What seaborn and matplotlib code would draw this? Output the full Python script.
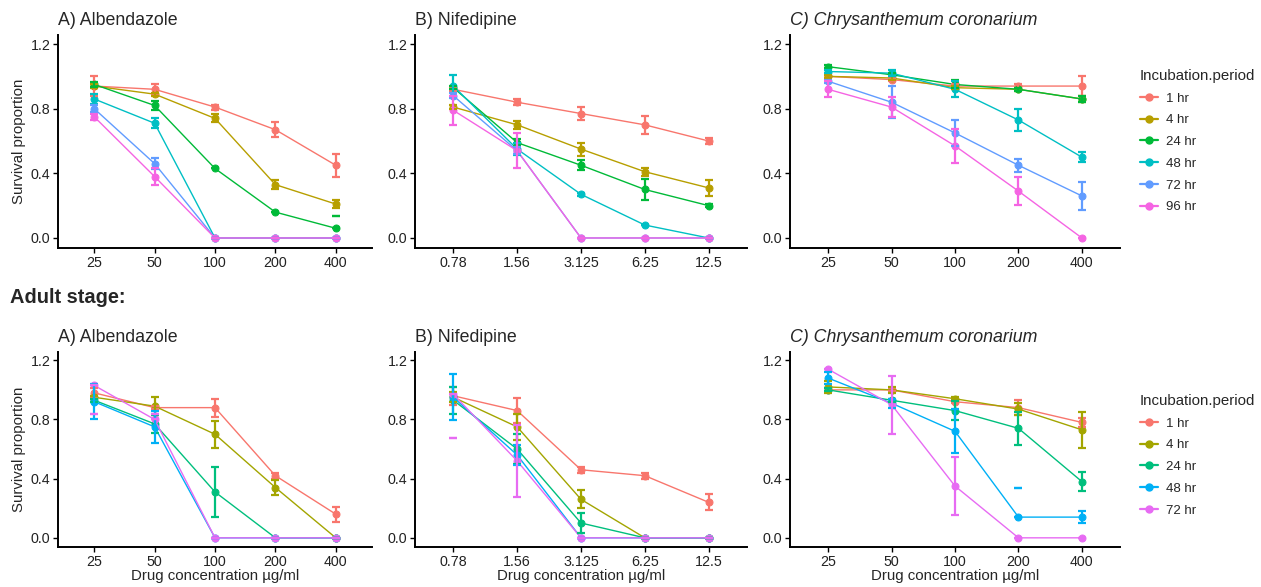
import numpy as np
import pandas as pd
import matplotlib.pyplot as plt
import seaborn as sns
from matplotlib.lines import Line2D

# ---- data ----
larva_hours = ['1 hr', '4 hr', '24 hr', '48 hr', '72 hr', '96 hr']
adult_hours = ['1 hr', '4 hr', '24 hr', '48 hr', '72 hr']
larva_colors = ['#F8766D', '#B79F00', '#00BA38', '#00BFC4', '#619CFF', '#F564E3']
adult_colors = ['#F8766D', '#A3A500', '#00BF7D', '#00B0F6', '#E76BF3']

conc_alb = ['25', '50', '100', '200', '400']
conc_nif = ['0.78', '1.56', '3.125', '6.25', '12.5']
conc_chr = ['25', '50', '100', '200', '400']

# larval stage (rows = incubation period)
larva_alb_mean = [[0.94, 0.92, 0.81, 0.67, 0.45],
                  [0.94, 0.89, 0.74, 0.33, 0.21],
                  [0.95, 0.82, 0.43, 0.16, 0.06],
                  [0.86, 0.71, 0.00, 0.00, 0.00],
                  [0.80, 0.46, 0.00, 0.00, 0.00],
                  [0.75, 0.38, 0.00, 0.00, 0.00]]
larva_alb_err = [[0.06, 0.03, 0.015, 0.045, 0.07],
                 [0.01, 0.01, 0.025, 0.03, 0.025],
                 [0.015, 0.03, 0.0, 0.0, 0.0],
                 [0.03, 0.03, 0.0, 0.0, 0.0],
                 [0.02, 0.035, 0.0, 0.0, 0.0],
                 [0.02, 0.05, 0.0, 0.0, 0.0]]
larva_alb_stray = [('24 hr', '400', 0.136)]

larva_nif_mean = [[0.92, 0.84, 0.77, 0.70, 0.60],
                  [0.81, 0.70, 0.55, 0.41, 0.31],
                  [0.93, 0.59, 0.45, 0.30, 0.20],
                  [0.94, 0.55, 0.27, 0.08, 0.00],
                  [0.88, 0.54, 0.00, 0.00, 0.00],
                  [0.79, 0.54, 0.00, 0.00, 0.00]]
larva_nif_err = [[0.01, 0.02, 0.04, 0.055, 0.02],
                 [0.01, 0.025, 0.04, 0.025, 0.05],
                 [0.01, 0.02, 0.03, 0.065, 0.01],
                 [0.07, 0.035, 0.01, 0.0, 0.0],
                 [0.015, 0.02, 0.0, 0.0, 0.0],
                 [0.09, 0.11, 0.0, 0.0, 0.0]]
larva_nif_stray = []

larva_chr_mean = [[1.00, 0.98, 0.94, 0.94, 0.94],
                  [1.00, 0.99, 0.93, 0.92, 0.86],
                  [1.06, 1.01, 0.95, 0.92, 0.86],
                  [1.03, 1.02, 0.92, 0.73, 0.50],
                  [0.97, 0.84, 0.65, 0.45, 0.26],
                  [0.92, 0.81, 0.57, 0.29, 0.00]]
larva_chr_err = [[0.01, 0.01, 0.01, 0.01, 0.06],
                 [0.01, 0.01, 0.01, 0.01, 0.02],
                 [0.01, 0.01, 0.025, 0.01, 0.02],
                 [0.01, 0.02, 0.05, 0.07, 0.03],
                 [0.01, 0.10, 0.08, 0.04, 0.085],
                 [0.05, 0.06, 0.105, 0.085, 0.0]]
larva_chr_stray = []

# adult stage
adult_alb_mean = [[0.98, 0.88, 0.88, 0.42, 0.16],
                  [0.95, 0.89, 0.70, 0.34, 0.00],
                  [0.93, 0.77, 0.31, 0.00, 0.00],
                  [0.92, 0.75, 0.00, 0.00, 0.00],
                  [1.03, 0.80, 0.00, 0.00, 0.00]]
adult_alb_err = [[0.03, 0.01, 0.06, 0.02, 0.05],
                 [0.01, 0.06, 0.09, 0.05, 0.0],
                 [0.01, 0.06, 0.17, 0.0, 0.0],
                 [0.12, 0.11, 0.0, 0.0, 0.0],
                 [0.0, 0.0, 0.0, 0.0, 0.0]]
adult_alb_stray = [('72 hr', '25', 0.835), ('72 hr', '50', 0.84)]

adult_nif_mean = [[0.96, 0.86, 0.46, 0.42, 0.24],
                  [0.95, 0.75, 0.26, 0.00, 0.00],
                  [0.93, 0.60, 0.10, 0.00, 0.00],
                  [0.95, 0.56, 0.00, 0.00, 0.00],
                  [0.97, 0.52, 0.00, 0.00, 0.00]]
adult_nif_err = [[0.06, 0.085, 0.02, 0.02, 0.055],
                 [0.035, 0.09, 0.06, 0.0, 0.0],
                 [0.09, 0.10, 0.07, 0.0, 0.0],
                 [0.155, 0.07, 0.0, 0.0, 0.0],
                 [0.0, 0.245, 0.0, 0.0, 0.0]]
adult_nif_stray = [('72 hr', '0.78', 0.676)]

adult_chr_mean = [[1.00, 1.00, 0.92, 0.88, 0.78],
                  [1.02, 1.00, 0.94, 0.87, 0.73],
                  [1.00, 0.93, 0.86, 0.74, 0.38],
                  [1.08, 0.91, 0.72, 0.14, 0.14],
                  [1.14, 0.90, 0.35, 0.00, 0.00]]
adult_chr_err = [[0.01, 0.01, 0.01, 0.05, 0.03],
                 [0.04, 0.02, 0.01, 0.04, 0.12],
                 [0.01, 0.01, 0.065, 0.11, 0.065],
                 [0.04, 0.03, 0.15, 0.0, 0.04],
                 [0.0, 0.195, 0.195, 0.0, 0.0]]
adult_chr_stray = [('48 hr', '200', 0.338)]

# ---- style ----
sns.set_theme(style='ticks')
plt.rcParams['font.family'] = ['Liberation Sans', 'DejaVu Sans']
plt.rcParams['axes.linewidth'] = 1.4
plt.rcParams['xtick.major.width'] = 1.0
plt.rcParams['ytick.major.width'] = 1.0
plt.rcParams['xtick.major.size'] = 3.5
plt.rcParams['ytick.major.size'] = 3.5

W, H = 1261, 587
fig = plt.figure(figsize=(W / 100, H / 100), dpi=100)


def add_axes(left, top, right, bottom):
    return fig.add_axes([left / W, 1 - bottom / H, (right - left) / W, (bottom - top) / H])


def draw_panel(ax, conc, hours, colors, means, errs, strays, title, italic=False,
               ylabel=False, xlabel=False):
    rows = []
    for h, m in zip(hours, means):
        for c, v in zip(conc, m):
            rows.append({'conc': c, 'surv': v, 'period': h})
    df = pd.DataFrame(rows)
    pal = dict(zip(hours, colors))
    xpos = np.arange(len(conc))
    sns.pointplot(data=df, x='conc', y='surv', hue='period', order=conc, hue_order=hours,
                  palette=pal, errorbar=None, markersize=5.0, linewidth=1.0,
                  legend=False, ax=ax)
    for h, m, e in zip(hours, means, errs):
        ax.errorbar(xpos, m, yerr=e, fmt='none', ecolor=pal[h], elinewidth=1.6,
                    capsize=3.0, capthick=1.6, zorder=4)
    for h, c, y in strays:
        ax.errorbar([conc.index(c)], [y], yerr=[0], fmt='none', ecolor=pal[h],
                    elinewidth=1.6, capsize=3.0, capthick=1.6, zorder=4)
    ax.set_xlim(-0.6, len(conc) - 0.4)
    ax.set_ylim(-0.062, 1.256)
    ax.set_yticks([0.0, 0.4, 0.8, 1.2])
    ax.set_yticklabels(['0.0', '0.4', '0.8', '1.2'])
    ax.tick_params(labelsize=10.3, colors='black', labelcolor='#222222', pad=2)
    ax.set_xlabel('Drug concentration µg/ml' if xlabel else '', fontsize=10.8, labelpad=0)
    ax.set_ylabel('Survival proportion' if ylabel else '', fontsize=10.8, labelpad=3)
    ax.set_title(title, loc='left', fontsize=12.8, pad=7,
                 fontstyle='italic' if italic else 'normal')
    sns.despine(ax=ax)
    for s in ['left', 'bottom']:
        ax.spines[s].set_color('black')


boxes_top = [(58, 35, 372, 248), (415, 35, 747, 248), (790, 35, 1120, 248)]
boxes_bot = [(58, 352, 372, 547), (415, 352, 747, 547), (790, 352, 1120, 547)]

ax = add_axes(*boxes_top[0])
draw_panel(ax, conc_alb, larva_hours, larva_colors, larva_alb_mean, larva_alb_err,
           larva_alb_stray, 'A) Albendazole', ylabel=True)
ax = add_axes(*boxes_top[1])
draw_panel(ax, conc_nif, larva_hours, larva_colors, larva_nif_mean, larva_nif_err,
           larva_nif_stray, 'B) Nifedipine')
ax = add_axes(*boxes_top[2])
draw_panel(ax, conc_chr, larva_hours, larva_colors, larva_chr_mean, larva_chr_err,
           larva_chr_stray, 'C) Chrysanthemum coronarium', italic=True)

ax = add_axes(*boxes_bot[0])
draw_panel(ax, conc_alb, adult_hours, adult_colors, adult_alb_mean, adult_alb_err,
           adult_alb_stray, 'A) Albendazole', ylabel=True, xlabel=True)
ax = add_axes(*boxes_bot[1])
draw_panel(ax, conc_nif, adult_hours, adult_colors, adult_nif_mean, adult_nif_err,
           adult_nif_stray, 'B) Nifedipine', xlabel=True)
ax = add_axes(*boxes_bot[2])
draw_panel(ax, conc_chr, adult_hours, adult_colors, adult_chr_mean, adult_chr_err,
           adult_chr_stray, 'C) Chrysanthemum coronarium', italic=True, xlabel=True)

fig.text(10 / W, 1 - 298 / H, 'Adult stage:', fontsize=14.4, fontweight='bold',
         va='center', ha='left')


def add_legend(hours, colors, top):
    handles = [Line2D([0], [0], color=c, lw=1.6, marker='o', markersize=5) for c in colors]
    leg = fig.legend(handles, hours, title='Incubation.period', loc='upper left',
                     bbox_to_anchor=(1128 / W, 1 - top / H), frameon=False,
                     fontsize=9.5, title_fontsize=10.8, handlelength=1.4,
                     labelspacing=0.72, handletextpad=0.6, alignment='left')
    return leg


add_legend(larva_hours, larva_colors, 57)
add_legend(adult_hours, adult_colors, 382)

fig.savefig('out.png', dpi=100)
